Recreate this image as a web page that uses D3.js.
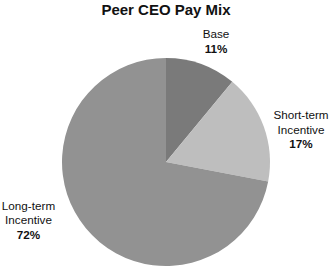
<!DOCTYPE html>
<html>
<head>
<meta charset="utf-8">
<script src="https://cdn.jsdelivr.net/npm/d3@7"></script>
<style>
  html, body { margin: 0; padding: 0; background: #fff; }
  svg { display: block; }
  text { font-family: "Liberation Sans", Arial, Helvetica, sans-serif; fill: #111; }
</style>
</head>
<body>
<svg id="chart" width="331" height="268"></svg>
<script>
const title = "Peer CEO Pay Mix";
const categories = ["Base", "Short-term Incentive", "Long-term Incentive"];
const labelLines = [["Base"], ["Short-term", "Incentive"], ["Long-term", "Incentive"]];
const values = [11, 17, 72];
const colors = ["#7a7a7a", "#bebebe", "#929292"];

const W = 331, H = 268;
const cx = 166, cy = 162, R = 104;
// label anchor positions (layout only): center x, first-line baseline y
const labelPos = [[216, 38], [301, 119], [28.5, 209.5]];

const svg = d3.select("#chart");

svg.append("text")
  .attr("x", cx).attr("y", 15)
  .attr("text-anchor", "middle")
  .style("font-size", "15px").style("font-weight", "bold")
  .text(title);

const pie = d3.pie().sort(null).value(d => d)(values);
const arc = d3.arc().innerRadius(0).outerRadius(R);

const g = svg.append("g").attr("transform", `translate(${cx},${cy})`);
g.selectAll("path").data(pie).join("path")
  .attr("d", arc)
  .attr("fill", (d, i) => colors[i]);

const lh = 14.7;
categories.forEach((c, i) => {
  const t = svg.append("text")
    .attr("text-anchor", "middle")
    .style("font-size", "11.7px");
  const lines = labelLines[i];
  lines.forEach((ln, j) => {
    t.append("tspan").attr("x", labelPos[i][0]).attr("y", labelPos[i][1] + j * lh).text(ln);
  });
  t.append("tspan")
    .attr("x", labelPos[i][0]).attr("y", labelPos[i][1] + lines.length * lh)
    .style("font-weight", "bold")
    .text(values[i] + "%");
});
</script>
</body>
</html>
